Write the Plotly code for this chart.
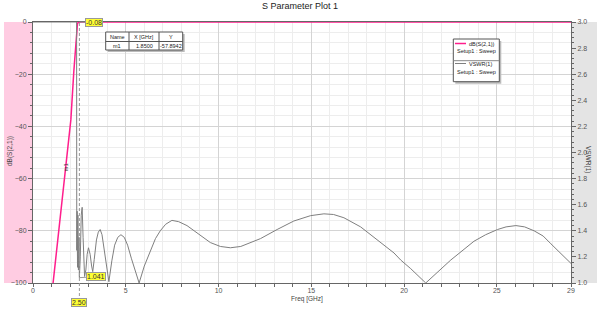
import plotly.graph_objects as go

# ---------------- data ----------------
s21_freq = [1.00, 1.09, 1.40, 1.74, 2.04, 2.20, 2.30, 2.35, 2.40, 2.50, 3.00, 29.0]
s21_db = [-105.4, -99.5, -79.3, -57.2, -37.5, -19.0, -7.5, -1.5, -0.4, -0.08, -0.03, -0.02]

vswr_freq = [0.0, 2.35, 2.36, 2.38, 2.40, 2.42, 2.45, 2.48, 2.50, 2.55, 2.60, 2.65, 2.70,
             2.74, 2.78, 2.85, 2.92, 2.99, 3.08, 3.16, 3.22, 3.30, 3.42, 3.52, 3.62, 3.72,
             3.85, 3.97, 4.09, 4.25, 4.40, 4.57, 4.74, 4.92, 5.10, 5.30, 5.50, 5.72, 6.00,
             6.32, 6.60, 6.86, 7.15, 7.49, 7.85, 8.30, 8.70, 9.02, 9.56, 10.1, 10.64, 11.2,
             11.7, 12.26, 13.16, 14.06, 14.96, 15.68, 16.2, 16.76, 17.66, 18.56, 19.46,
             19.82, 20.36, 21.17, 22.52, 23.77, 24.4, 25.04, 25.5, 26.03, 26.5, 27.01,
             27.5, 27.92, 28.5, 29.0]
vswr_val = [3.0, 3.0, 1.25, 1.55, 1.12, 1.52, 1.10, 1.35, 1.041, 1.20, 1.52, 1.58, 1.35,
            1.10, 1.05, 1.10, 1.22, 1.27, 1.22, 1.13, 1.087, 1.18, 1.33, 1.39, 1.41, 1.37,
            1.25, 1.12, 1.01, 1.17, 1.29, 1.35, 1.37, 1.35, 1.29, 1.19, 1.09, 1.00, 1.13,
            1.25, 1.34, 1.40, 1.45, 1.48, 1.47, 1.44, 1.40, 1.37, 1.31, 1.28, 1.27, 1.28,
            1.31, 1.34, 1.41, 1.475, 1.516, 1.53, 1.525, 1.50, 1.43, 1.33, 1.23,
            1.176, 1.11, 1.00, 1.176, 1.32, 1.37, 1.41, 1.43, 1.44, 1.43, 1.40,
            1.36, 1.30, 1.22, 1.15]

x_ticks = [0, 5, 10, 15, 20, 25, 29]
y_ticks = [-100, -80, -60, -40, -20, 0]

marker_freq = 2.50
marker_s21 = -0.08
marker_vswr = 1.041
m1_freq = 1.85
m1_db = -57.8942

table_header = ["Name", "X [GHz]", "Y"]
table_row = ["m1", "1.8500", "-57.8942"]

# ---------------- figure ----------------
FONT = "Liberation Sans, Arial, sans-serif"
PINK = "#ff1e8c"
GREY = "#7f7f7f"

fig = go.Figure()
fig.add_trace(go.Scatter(x=s21_freq, y=s21_db, mode="lines",
                         line=dict(color=PINK, width=1.5), name="dB(S(2,1))"))
fig.add_trace(go.Scatter(x=vswr_freq, y=vswr_val, mode="lines", yaxis="y2",
                         line=dict(color=GREY, width=1), name="VSWR(1)"))

L, R, T, B = 33, 29, 22, 31
W, H = 600, 314
pw, ph = W - L - R, H - T - B


def px(xp):
    return (xp - L) / pw


def py(yp):
    return (H - B - yp) / ph


fig.update_layout(
    width=W, height=H, margin=dict(l=L, r=R, t=T, b=B),
    paper_bgcolor="white", plot_bgcolor="white", showlegend=False,
    font=dict(family=FONT, size=7, color="#555"),
    xaxis=dict(range=[0, 29], tickmode="array", tickvals=x_ticks,
               ticktext=[str(v) for v in x_ticks],
               ticks="outside", ticklen=3, tickcolor="#666", ticklabelstandoff=-2,
               showline=True, linecolor="#666", linewidth=1, mirror=True,
               showgrid=True, gridcolor="#d4d4d4", zeroline=False,
               layer="below traces",
               minor=dict(tickmode="linear", tick0=0, dtick=1, ticks="outside",
                          ticklen=3, tickcolor="#666", showgrid=True,
                          gridcolor="#ededed"),
               tickfont=dict(size=7, color="#555")),
    yaxis=dict(range=[-100, 0], tickmode="array", tickvals=y_ticks,
               ticks="outside", ticklen=4, tickcolor="#666",
               showline=True, linecolor="#666", linewidth=1, mirror=True,
               showgrid=True, gridcolor="#d4d4d4", zeroline=False,
               layer="below traces",
               minor=dict(tickmode="linear", tick0=0, dtick=4, ticks="outside",
                          ticklen=2, tickcolor="#666", showgrid=True,
                          gridcolor="#ededed"),
               tickfont=dict(size=7, color="#555")),
    yaxis2=dict(range=[1, 3], overlaying="y", side="right", tickmode="linear",
                tick0=1, dtick=0.2, tickformat=".1f",
                ticks="outside", ticklen=4, tickcolor="#666",
                showline=True, linecolor="#666", linewidth=1,
                showgrid=False, zeroline=False, layer="below traces",
                minor=dict(tickmode="linear", tick0=1, dtick=0.04, ticks="outside",
                           ticklen=2, tickcolor="#666"),
                tickfont=dict(size=7, color="#555")),
)

shapes = []
# side bands
shapes.append(dict(type="rect", xref="paper", yref="paper", x0=px(4), x1=0, y0=0, y1=1,
                   fillcolor="#ffcce2", line=dict(width=0), layer="below"))
shapes.append(dict(type="rect", xref="paper", yref="paper", x0=1, x1=px(597), y0=0, y1=1,
                   fillcolor="#e4e4e4", line=dict(width=0), layer="below"))
# marker dashed line
shapes.append(dict(type="line", xref="x", yref="paper", x0=marker_freq, x1=marker_freq,
                   y0=py(296), y1=1, line=dict(color="#999", width=1, dash="3px,2px")))

# marker table with shadow
tx0, tx1, ty0, ty1 = 105.7, 182.7, 32, 50
shapes.append(dict(type="rect", xref="paper", yref="paper", x0=px(tx0 + 2), x1=px(tx1 + 2),
                   y0=py(ty1 + 2), y1=py(ty0 + 2), fillcolor="#bbbbbb", line=dict(width=0)))
shapes.append(dict(type="rect", xref="paper", yref="paper", x0=px(tx0), x1=px(tx1),
                   y0=py(ty1), y1=py(ty0), fillcolor="white", line=dict(color="#555", width=1)))
shapes.append(dict(type="line", xref="paper", yref="paper", x0=px(tx0), x1=px(tx1),
                   y0=py(41.5), y1=py(41.5), line=dict(color="#555", width=1)))
col_edges = [tx0, 129, 159, tx1]
for cx in col_edges[1:-1]:
    shapes.append(dict(type="line", xref="paper", yref="paper", x0=px(cx), x1=px(cx),
                       y0=py(ty1), y1=py(ty0), line=dict(color="#555", width=1)))

# legend box with shadow
lx0, lx1, ly0, ly1 = 453.3, 499.3, 39, 81.7
shapes.append(dict(type="rect", xref="paper", yref="paper", x0=px(lx0 + 2), x1=px(lx1 + 2),
                   y0=py(ly1 + 2), y1=py(ly0 + 2), fillcolor="#bbbbbb", line=dict(width=0)))
shapes.append(dict(type="rect", xref="paper", yref="paper", x0=px(lx0), x1=px(lx1),
                   y0=py(ly1), y1=py(ly0), fillcolor="white", line=dict(color="#555", width=1)))
shapes.append(dict(type="line", xref="paper", yref="paper", x0=px(lx0), x1=px(lx1),
                   y0=py(60.7), y1=py(60.7), line=dict(color="#888", width=1)))
shapes.append(dict(type="line", xref="paper", yref="paper", x0=px(455), x1=px(466),
                   y0=py(43.5), y1=py(43.5), line=dict(color=PINK, width=1.5)))
shapes.append(dict(type="line", xref="paper", yref="paper", x0=px(455), x1=px(466),
                   y0=py(63.5), y1=py(63.5), line=dict(color=GREY, width=1)))

fig.update_layout(shapes=shapes)


def txt(text, xp, yp, size=5.5, color="#222", xanchor="center", angle=0):
    return dict(text=text, xref="paper", yref="paper", x=px(xp), y=py(yp),
                xanchor=xanchor, yanchor="middle", textangle=angle,
                showarrow=False, font=dict(size=size, color=color))


ann = []
ann.append(txt("S Parameter Plot 1", 300, 6, size=9, color="#222"))
ann.append(txt("dB(S(2,1))", 10, 151, size=6.5, color="#444", angle=-90))
ann.append(txt("VSWR(1)", 588, 159, size=6.5, color="#444", angle=90))
ann.append(txt("Freq [GHz]", 307, 299, size=6.5, color="#444"))

# table text
cxs = [(col_edges[i] + col_edges[i + 1]) / 2 for i in range(3)]
for i in range(3):
    ann.append(txt(table_header[i], cxs[i], 36.8))
    ann.append(txt(table_row[i], cxs[i], 46))

# legend text
ann.append(txt("dB(S(2,1))", 497, 43.5, xanchor="right"))
ann.append(txt("Setup1 : Sweep", 454.5, 50.5, xanchor="left"))
ann.append(txt("VSWR(1)", 494, 63.5, xanchor="right"))
ann.append(txt("Setup1 : Sweep", 454.5, 71.5, xanchor="left"))

# marker labels
ann.append(dict(text="%.2f" % marker_s21, x=marker_freq, y=marker_s21, xref="x", yref="y",
                showarrow=True, arrowhead=0, arrowcolor="#999", ax=15, ay=0,
                bgcolor="#ffff33", bordercolor="#999", borderwidth=1, borderpad=0,
                font=dict(size=7, color="#333")))
ann.append(dict(text="%.3f" % marker_vswr, x=marker_freq, y=marker_vswr, xref="x", yref="y2",
                showarrow=True, arrowhead=0, arrowcolor="#999", ax=17, ay=-1,
                bgcolor="#ffff33", bordercolor="#999", borderwidth=1, borderpad=0,
                font=dict(size=7, color="#333")))
ann.append(dict(text="%.2f" % marker_freq, x=marker_freq, xref="x", yref="paper", y=py(302),
                xanchor="center", yanchor="middle",
                showarrow=False, bgcolor="#ffff33", bordercolor="#999", borderwidth=1,
                borderpad=0, font=dict(size=7, color="#333")))
ann.append(dict(text="m1", x=m1_freq, y=m1_db, xref="x", yref="y", xshift=-1, yshift=6,
                xanchor="center", yanchor="middle",
                textangle=-90, showarrow=False, font=dict(size=6, color="#333")))

fig.update_layout(annotations=ann)

fig.write_html("out.html")
